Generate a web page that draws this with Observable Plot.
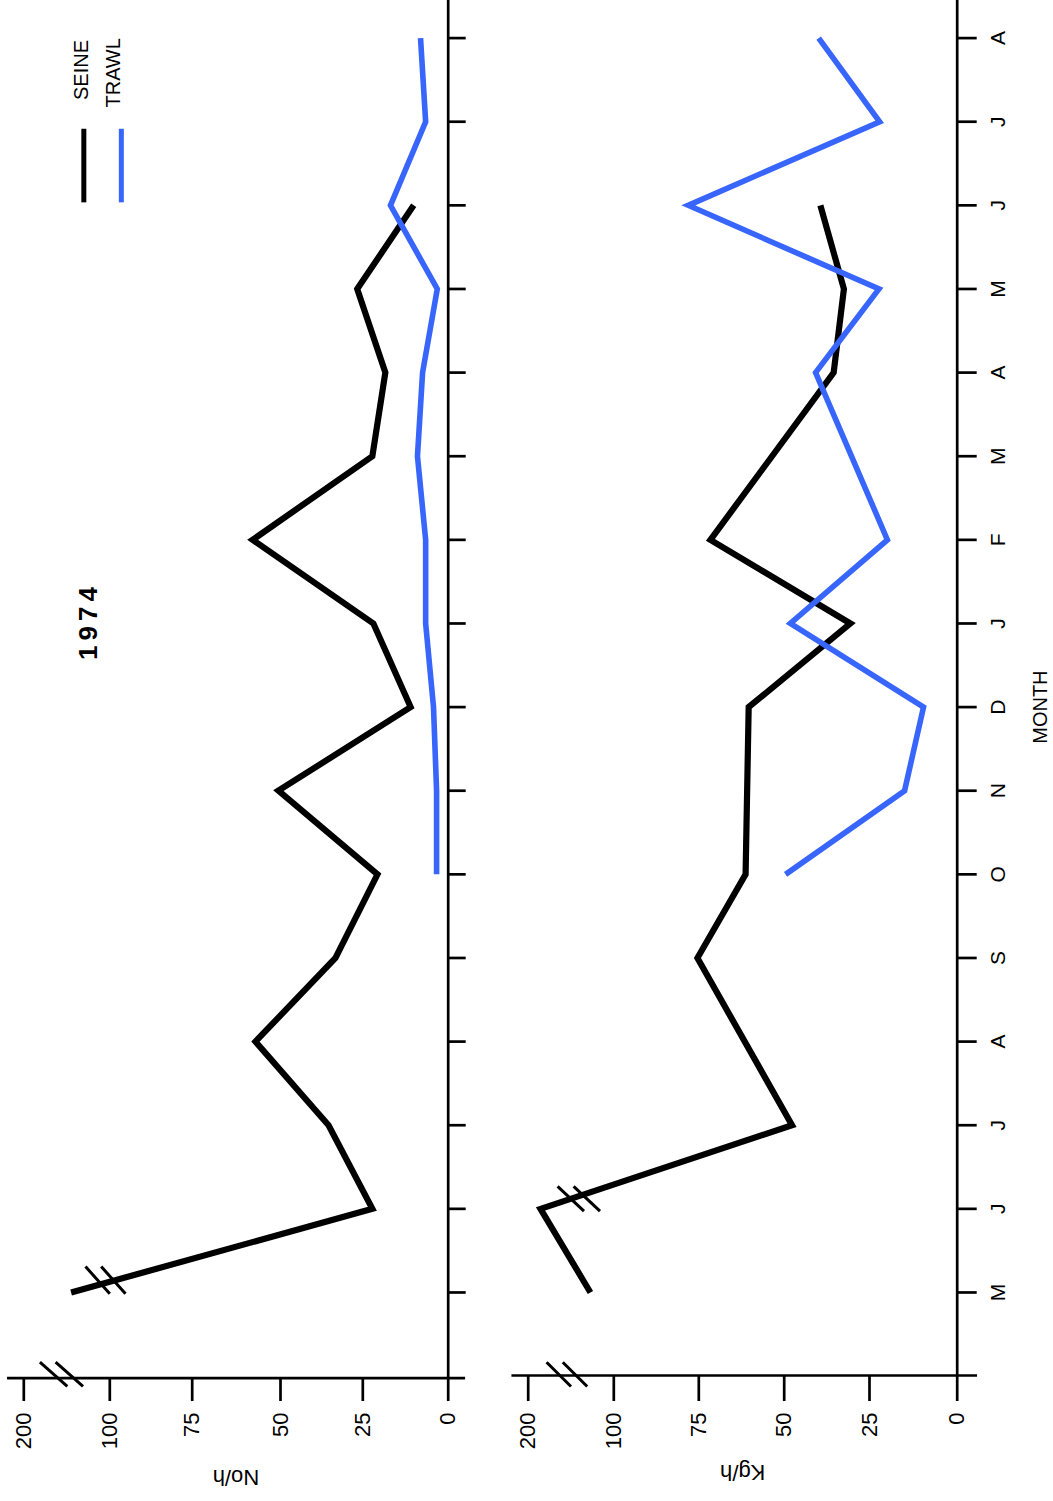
<!DOCTYPE html>
<html>
<head>
<meta charset="utf-8">
<script src="https://cdn.jsdelivr.net/npm/d3@7"></script>
<script src="https://cdn.jsdelivr.net/npm/@observablehq/plot@0.6"></script>
<style>
html, body { margin: 0; padding: 0; background: #fff; }
#chart { display: flex; width: 1053px; height: 1501px; }
#chart svg { display: block; }
</style>
</head>
<body>
<div id="chart"></div>
<script>
// ---- data ----
const months = ["M","J","J","A","S","O","N","D","J","F","M","A","M","J","J","A"];
const valueTicks = [0, 25, 50, 75, 100, 200];
// catch per hour, number (upper panel, left in the picture)
const seineNo = [145, 22.2, 35.4, 57.1, 33.3, 20.7, 50.6, 11.0, 21.9, 57.9, 22.2, 18.4, 26.7, 10.1, null, null];
const trawlNo = [null, null, null, null, null, 3.4, 3.4, 4.3, 6.6, 6.6, 9.0, 7.5, 3.2, 16.9, 6.6, 8.1];
// catch per hour, weight (lower panel, right in the picture)
const seineKg = [127.3, 185.6, 47.7, null, 75.4, 61.3, null, 60.4, 30.6, 71.6, null, 35.5, 32.5, 39.4, null, null];
const trawlKg = [null, null, null, null, null, 49.6, 15.0, 9.6, 48.2, 19.9, null, 40.8, 22.3, 78.1, 22.1, 39.9];
const legendNames = ["SEINE", "TRAWL"];
const title = "1974";
const xLabel = "MONTH";
const yLabelNo = "No/h";
const yLabelKg = "Kg/h";

const BLUE = "#3865fb";
const FONT = "'Liberation Sans', Arial, Helvetica, sans-serif";
const legendColors = ["black", BLUE];

const series = vals => vals.map((v, i) => ({i, v})).filter(d => d.v != null);

function slashPair(hx, hy, off) {
  return {
    draw(ctx) {
      for (const o of [-off, off]) { ctx.moveTo(o - hx, -hy); ctx.lineTo(o + hx, hy); }
    }
  };
}

const yScale = {domain: [-1, 15], range: [1375.6, 37.6]};
const lineStyle = {strokeWidth: 6.2, strokeLinejoin: "miter", strokeMiterlimit: 10, strokeLinecap: "butt"};
const axisStyle = {stroke: "black", strokeWidth: 2.7};

function panel(opts) {
  const {width, xRange, origin, tickLen, seine, trawl, axisBreak, lineBreak, marginLeft, marginRight, extra} = opts;
  return Plot.plot({
    width, height: 1501,
    marginLeft, marginRight, marginTop: 37.6, marginBottom: 1501 - opts.originPx,
    x: {type: "linear", domain: valueTicks, range: xRange, axis: null},
    y: {...yScale, axis: null},
    style: {background: "transparent", fontFamily: FONT, overflow: "visible"},
    marks: [
      // value axis
      Plot.ruleY([origin], {x1: 219, x2: opts.axisEnd, ...axisStyle}),
      Plot.ruleX(valueTicks, {x: d => d, y1: origin, y2: -1.304, ...axisStyle}),
      Plot.text(valueTicks, {x: d => d, y: origin, text: d => String(d), rotate: -90, textAnchor: "end",
        dy: 1412 - opts.originPx, fontSize: 22, fill: "black"}),
      Plot.dot([axisBreak], {x: "v", y: "i", r: 10, symbol: slashPair(...opts.axisBreakShape), fill: "none", stroke: "black", strokeWidth: 3}),
      // month axis
      Plot.ruleX([0], {y1: origin, y2: 15.5, ...axisStyle}),
      Plot.ruleY(months.map((m, i) => i), {y: d => d, x1: 0, x2: tickLen, ...axisStyle}),
      // data
      Plot.line(series(seine), {x: "v", y: "i", stroke: "black", ...lineStyle}),
      Plot.line(series(trawl), {x: "v", y: "i", stroke: BLUE, ...lineStyle, strokeWidth: 5.6}),
      Plot.dot([lineBreak], {x: "v", y: "i", r: 10, symbol: slashPair(...opts.lineBreakShape), fill: "none", stroke: "black", strokeWidth: 3}),
      ...extra
    ]
  });
}

const left = panel({
  width: 500, xRange: [447.7, 362.3, 280, 191.7, 109.3, 23.3], marginLeft: 23.3, marginRight: 52.3,
  origin: -1.025, originPx: 1377.7, axisEnd: -5.1, tickLen: -5.27,
  seine: seineNo, trawl: trawlNo,
  axisBreak: {v: 156.2, i: -0.979}, axisBreakShape: [13.7, 12.15, 7.85],
  lineBreak: {v: 105, i: 0.147}, lineBreakShape: [12.15, 13.65, 7.85],
  extra: [
    Plot.ruleX(legendNames, {x: (d, i) => [130.2, 96.5][i], y1: 13.03, y2: 13.91, stroke: (d, i) => legendColors[i], strokeWidth: 5}),
    Plot.text(legendNames, {x: (d, i) => [132.3, 98.7][i], y: (d, i) => [14.26, 14.17][i], text: d => d, rotate: -90, textAnchor: "start", fontSize: 20, fill: "black"}),
    Plot.text([title], {x: 124.8, y: 8.03, text: d => d, rotate: -90, fontSize: 26, fontWeight: "bold", fill: "black"}),
    Plot.text([yLabelNo], {frameAnchor: "bottom", lineAnchor: "middle", dy: 99.3, rotate: 180, text: d => d, fontSize: 22, fill: "black"})
  ]
});

const right = panel({
  width: 553, xRange: [456.7, 369, 283.7, 198.3, 113.3, 27.7], marginLeft: 27.7, marginRight: 96.3,
  origin: -0.993, originPx: 1375, axisEnd: -5.8, tickLen: -5.7,
  seine: seineKg, trawl: trawlKg,
  axisBreak: {v: 154.8, i: -0.979}, axisBreakShape: [12.2, 12.15, 8.1],
  lineBreak: {v: 140.9, i: 1.12}, lineBreakShape: [13.2, 12.35, 8.0],
  extra: [
    Plot.text(months, {x: 0, y: (d, i) => i, text: d => d, rotate: -90, dx: 41, fontSize: 21, fill: "black"}),
    Plot.text([xLabel], {x: 0, y: 7, text: d => d, rotate: -90, dx: 83.3, fontSize: 20, fill: "black"}),
    Plot.text([yLabelKg], {frameAnchor: "bottom", lineAnchor: "middle", dy: 97, rotate: 180, text: d => d, fontSize: 22, fill: "black"})
  ]
});

document.getElementById("chart").append(left, right);
for (const t of left.querySelectorAll("text")) {
  if (t.textContent === title) t.style.letterSpacing = "5px";
}
</script>
</body>
</html>
